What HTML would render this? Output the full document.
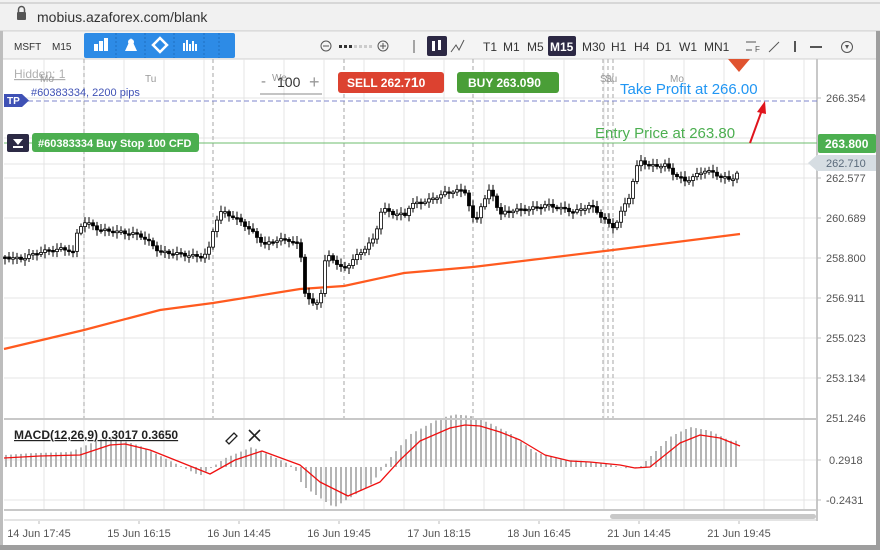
<!DOCTYPE html>
<html><head><meta charset="utf-8"><style>
html,body{margin:0;padding:0;width:880px;height:550px;overflow:hidden;background:#fff;font-family:"Liberation Sans",sans-serif}
</style></head><body>
<svg id="s" width="880" height="550" xmlns="http://www.w3.org/2000/svg" font-family="Liberation Sans, sans-serif">
<rect x="0" y="0" width="880" height="550" fill="#fff"/>
<rect x="0" y="0" width="880" height="31" fill="#f1f1f1"/>
<line x1="0" y1="3" x2="880" y2="3" stroke="#bdbdbd"/>
<line x1="0" y1="31" x2="880" y2="31" stroke="#c8c8c8"/>
<rect x="17" y="12" width="9" height="8" rx="1" fill="#555"/>
<path d="M18.5 12 v-2.5 a3 3 0 0 1 6 0 V12" fill="none" stroke="#555" stroke-width="1.5"/>
<text x="37" y="22" font-size="14" fill="#333">mobius.azaforex.com/blank</text>
<rect x="0" y="32" width="880" height="27" fill="#f4f4f4"/>
<line x1="0" y1="59" x2="880" y2="59" stroke="#d0d0d0"/>
<text x="14" y="50" font-size="10" fill="#333">MSFT</text>
<text x="52" y="50" font-size="10" fill="#333">M15</text>
<rect x="84" y="33" width="151" height="25" rx="2" fill="#2d8be6"/>
<g stroke="#1f6fc0" stroke-dasharray="2,2"><line x1="116" y1="33" x2="116" y2="58"/><line x1="145" y1="33" x2="145" y2="58"/><line x1="174" y1="33" x2="174" y2="58"/><line x1="204" y1="33" x2="204" y2="58"/><line x1="219" y1="33" x2="219" y2="58"/></g>
<g fill="#fff"><rect x="94" y="44" width="4" height="7"/><rect x="99" y="41" width="4" height="10"/><rect x="104" y="38" width="4" height="13"/>
<polygon points="131,38 125,51 137,51"/><circle cx="131" cy="42" r="3"/>
<polygon points="160,38 167,45 160,52 153,45" fill="none" stroke="#fff" stroke-width="2.5"/>
<rect x="183" y="43" width="2" height="8"/><rect x="186" y="40" width="2" height="11"/><rect x="189" y="44" width="2" height="7"/><rect x="192" y="41" width="2" height="10"/><rect x="195" y="44" width="2" height="7"/></g>
<circle cx="326" cy="46" r="5" fill="none" stroke="#555"/><line x1="323" y1="46" x2="329" y2="46" stroke="#555"/>
<g fill="#333"><rect x="339" y="45" width="3" height="3"/><rect x="344" y="45" width="3" height="3"/><rect x="349" y="45" width="3" height="3"/></g>
<g fill="#ccc"><rect x="354" y="45" width="3" height="3"/><rect x="359" y="45" width="3" height="3"/><rect x="364" y="45" width="3" height="3"/><rect x="369" y="45" width="3" height="3"/></g>
<circle cx="383" cy="46" r="5" fill="none" stroke="#555"/><line x1="380" y1="46" x2="386" y2="46" stroke="#555"/><line x1="383" y1="43" x2="383" y2="49" stroke="#555"/>
<line x1="414" y1="40" x2="414" y2="53" stroke="#555"/>
<rect x="427" y="36" width="20" height="20" rx="2" fill="#2c2844"/>
<rect x="432" y="41" width="3" height="10" fill="#fff"/><rect x="438" y="40" width="3" height="10" fill="#fff"/>
<polyline points="451,52 456,45 459,50 464,40" fill="none" stroke="#555"/>
<g font-size="12" fill="#333"><text x="483" y="51">T1</text><text x="503" y="51">M1</text><text x="527" y="51">M5</text>
<rect x="548" y="36" width="28" height="20" rx="2" fill="#2c2844"/><text x="550" y="51" fill="#fff" font-weight="bold">M15</text>
<text x="582" y="51">M30</text><text x="611" y="51">H1</text><text x="634" y="51">H4</text><text x="656" y="51">D1</text><text x="679" y="51">W1</text><text x="704" y="51">MN1</text></g>
<g stroke="#555"><line x1="746" y1="42" x2="756" y2="42"/><line x1="746" y1="50" x2="752" y2="50"/><line x1="769" y1="52" x2="779" y2="42"/><line x1="795" y1="41" x2="795" y2="52" stroke-width="2"/><line x1="810" y1="47" x2="822" y2="47" stroke-width="2"/><circle cx="847" cy="47" r="5.5" fill="none"/></g>
<text x="755" y="52" font-size="8" fill="#555">F</text><polygon points="845,45 849,45 847,49" fill="#555"/>
<g id="grid"></g>
<g id="ma"></g>
<g id="candles"></g>
<g id="macd"></g>
<rect x="4" y="418" width="813" height="2" fill="#c8c8c8"/>
<rect x="4" y="509" width="813" height="2" fill="#c8c8c8"/>
<line x1="4" y1="520" x2="817" y2="520" stroke="#c8c8c8"/>
<rect x="610" y="514" width="206" height="5" rx="2.5" fill="#c8c8c8"/>
<line x1="817" y1="59" x2="817" y2="521" stroke="#c8c8c8" stroke-width="2"/>
<rect x="0" y="31" width="3" height="519" fill="#bdbdbd"/>
<rect x="876" y="31" width="4" height="519" fill="#9e9e9e"/>
<rect x="0" y="545" width="880" height="5" fill="#9e9e9e"/>
<g font-size="11" fill="#555" text-anchor="middle">
<text x="39" y="537">14 Jun 17:45</text><text x="139" y="537">15 Jun 16:15</text><text x="239" y="537">16 Jun 14:45</text><text x="339" y="537">16 Jun 19:45</text><text x="439" y="537">17 Jun 18:15</text><text x="539" y="537">18 Jun 16:45</text><text x="639" y="537">21 Jun 14:45</text><text x="739" y="537">21 Jun 19:45</text></g>
<g stroke="#bbb"><line x1="39" y1="521" x2="39" y2="524"/><line x1="139" y1="521" x2="139" y2="524"/><line x1="239" y1="521" x2="239" y2="524"/><line x1="339" y1="521" x2="339" y2="524"/><line x1="439" y1="521" x2="439" y2="524"/><line x1="539" y1="521" x2="539" y2="524"/><line x1="639" y1="521" x2="639" y2="524"/><line x1="739" y1="521" x2="739" y2="524"/></g>
<g font-size="11" fill="#555">
<text x="826" y="102">266.354</text><text x="826" y="182">262.577</text><text x="826" y="222">260.689</text><text x="826" y="262">258.800</text><text x="826" y="302">256.911</text><text x="826" y="342">255.023</text><text x="826" y="382">253.134</text><text x="826" y="422">251.246</text>
<text x="829" y="464">0.2918</text><text x="826" y="504">-0.2431</text></g>
<g stroke="#bbb"><line x1="817" y1="98" x2="821" y2="98"/><line x1="817" y1="178" x2="821" y2="178"/><line x1="817" y1="218" x2="821" y2="218"/><line x1="817" y1="258" x2="821" y2="258"/><line x1="817" y1="298" x2="821" y2="298"/><line x1="817" y1="338" x2="821" y2="338"/><line x1="817" y1="378" x2="821" y2="378"/><line x1="817" y1="460" x2="821" y2="460"/><line x1="817" y1="500" x2="821" y2="500"/></g>
<text x="14" y="78" font-size="12" fill="#b0b0b0" text-decoration="underline">Hidden: 1</text>
<g font-size="10" fill="#999"><text x="40" y="82">Mo</text><text x="145" y="82">Tu</text><text x="272" y="81">We</text><text x="600" y="82">Sa</text><text x="605" y="82">Su</text><text x="670" y="82">Mo</text></g>
<text x="261" y="86" font-size="15" fill="#888">-</text><text x="277" y="87" font-size="14" fill="#333">100</text><text x="309" y="88" font-size="18" fill="#999">+</text>
<line x1="260" y1="94" x2="322" y2="94" stroke="#888"/>
<rect x="338" y="72" width="106" height="21" rx="3" fill="#dc4230"/>
<text x="347" y="87" font-size="12" font-weight="bold" fill="#fff">SELL 262.7<tspan font-size="14">1</tspan>0</text>
<rect x="457" y="72" width="102" height="21" rx="3" fill="#4a9e37"/>
<text x="468" y="87" font-size="12" font-weight="bold" fill="#fff">BUY 263.0<tspan font-size="14">9</tspan>0</text>
<polygon points="728,59 750,59 739,72" fill="#e0532f"/>
<line x1="28" y1="101" x2="817" y2="101" stroke="#7c84cc" stroke-dasharray="5,3"/>
<polygon points="4,94 22,94 29,100.5 22,107 4,107" fill="#3f51b5"/>
<text x="7" y="104" font-size="10" font-weight="bold" fill="#fff">TP</text>
<text x="31" y="96" font-size="11" fill="#3f51b5">#60383334, 2200 pips</text>
<text x="620" y="94" font-size="15" fill="#2196f3">Take Profit at 266.00</text>
<line x1="4" y1="143" x2="817" y2="143" stroke="#6cbd6c"/>
<rect x="7" y="134" width="22" height="18" rx="2" fill="#2c2a45"/>
<polygon points="13,139 23,139 18,145" fill="#fff"/><rect x="13" y="146" width="10" height="2" fill="#fff"/>
<rect x="32" y="133" width="167" height="19" rx="3" fill="#4caf50"/>
<text x="38" y="147" font-size="11" font-weight="bold" fill="#fff">#60383334 Buy Stop 100 CFD</text>
<text x="595" y="138" font-size="15" fill="#4caf50">Entry Price at 263.80</text>
<line x1="750" y1="143" x2="762" y2="110" stroke="#e0141c" stroke-width="2"/>
<polygon points="765,101 757,112 766,114" fill="#e0141c"/>
<rect x="818" y="134" width="58" height="19" rx="2" fill="#4caf50"/>
<text x="825" y="148" font-size="12" font-weight="bold" fill="#fff">263.800</text>
<polygon points="808,163 817,155 876,155 876,171 817,171" fill="#d6dde2"/>
<text x="826" y="167" font-size="11" fill="#5a6a7a">262.710</text>
<text x="14" y="439" font-size="12" font-weight="bold" fill="#222" text-decoration="underline">MACD(12,26,9) 0.3017 0.3650</text>
<path d="M226 441 l8 -8 l3 3 l-8 8 z" fill="none" stroke="#222" stroke-width="1.3"/>
<path d="M249 430 l11 11 M260 430 l-11 11" stroke="#222" stroke-width="1.6"/>
</svg>
<script>
(function(){
var NS="http://www.w3.org/2000/svg";
function el(p,t,a){var e=document.createElementNS(NS,t);for(var k in a)e.setAttribute(k,a[k]);document.getElementById(p).appendChild(e);return e;}
function interp(pts,x){if(x<=pts[0][0])return pts[0][1];for(var i=1;i<pts.length;i++){if(x<=pts[i][0]){var a=pts[i-1],b=pts[i];return a[1]+(b[1]-a[1])*(x-a[0])/(b[0]-a[0]);}}return pts[pts.length-1][1];}
for(var x=44;x<817;x+=40){el("grid","line",{x1:x,y1:59,x2:x,y2:509,stroke:"#e4e4e4"});}
[98,138,164,178,218,258,298,338,378,460,500].forEach(function(y){el("grid","line",{x1:4,y1:y,x2:817,y2:y,stroke:"#e4e4e4"});});
[84,213,344,473,603,608,613].forEach(function(x){el("grid","line",{x1:x,y1:59,x2:x,y2:418,stroke:"#bbb","stroke-dasharray":"4,3","stroke-width":1.3});});
var ma=[[4,349],[84,330],[160,310],[213,303],[300,289],[344,286],[404,273],[473,267],[613,250],[740,234]];
var d="";ma.forEach(function(p,i){d+=(i?"L":"M")+p[0]+" "+p[1];});
el("ma","path",{d:d,fill:"none",stroke:"#ff5a1f","stroke-width":2.2});
var cp=[[5,257],[20,259],[40,252],[60,249],[70,250],[74,253],[78,228],[85,222],[100,230],[120,232],[140,235],[150,243],[160,252],[180,254],[200,257],[208,253],[215,222],[222,211],[235,218],[245,225],[255,235],[265,245],[275,240],[290,240],[300,246],[304,290],[312,305],[320,300],[325,262],[330,255],[340,268],[345,268],[355,258],[365,248],[375,238],[380,212],[385,210],[395,214],[405,215],[410,205],[430,200],[440,195],[455,190],[465,192],[470,208],[475,226],[480,207],[490,190],[495,200],[500,215],[510,210],[520,210],[535,208],[545,205],[560,208],[575,212],[590,205],[600,215],[605,220],[612,228],[618,220],[622,210],[630,195],[635,172],[640,160],[650,166],[665,165],[675,175],[685,181],[695,176],[705,170],[720,176],[730,180],[736,175],[740,168]];
var prev=interp(cp,2);
for(var i=0;i<184;i++){var cx=5+i*4;var c=interp(cp,cx)+Math.sin(i*1.7)*1.5;var o=prev;var tp=Math.min(o,c),bt=Math.max(o,c);if(bt-tp<1.5){bt=tp+1.5;}
var hi=tp-2-Math.abs(Math.sin(i*2.3))*4,lo=bt+2+Math.abs(Math.cos(i*1.9))*4;
el("candles","line",{x1:cx,y1:hi,x2:cx,y2:lo,stroke:"#000","stroke-width":1});
var up=c<o;el("candles","rect",{x:cx-1.5,y:tp,width:3,height:bt-tp,fill:up?"#fff":"#000",stroke:"#000","stroke-width":0.8});
prev=c;}
var ml=[[4,458],[40,456],[80,455],[110,445],[125,444],[150,450],[180,462],[210,474],[235,460],[262,451],[300,465],[320,482],[348,496],[380,482],[400,460],[420,441],[450,428],[465,425],[480,426],[500,432],[520,440],[545,455],[570,461],[590,462],[620,465],[635,468],[650,467],[665,455],[680,443],[700,435],[720,438],[740,446]];
var base=467;
for(var x2=6;x2<=740;x2+=5){var v=interp(ml,x2+10);var h=(base-v)*1.25;if(x2>300&&x2<360)h=(base-interp(ml,x2+14))*1.4;el("macd","line",{x1:x2,y1:base,x2:x2,y2:base-h,stroke:"#b5b5b5","stroke-width":2});}
var d2="";ml.forEach(function(p,i){d2+=(i?"L":"M")+p[0]+" "+p[1];});
el("macd","path",{d:d2,fill:"none",stroke:"#f01010","stroke-width":1.3,"stroke-linejoin":"round"});
})();
</script>
</body></html>
